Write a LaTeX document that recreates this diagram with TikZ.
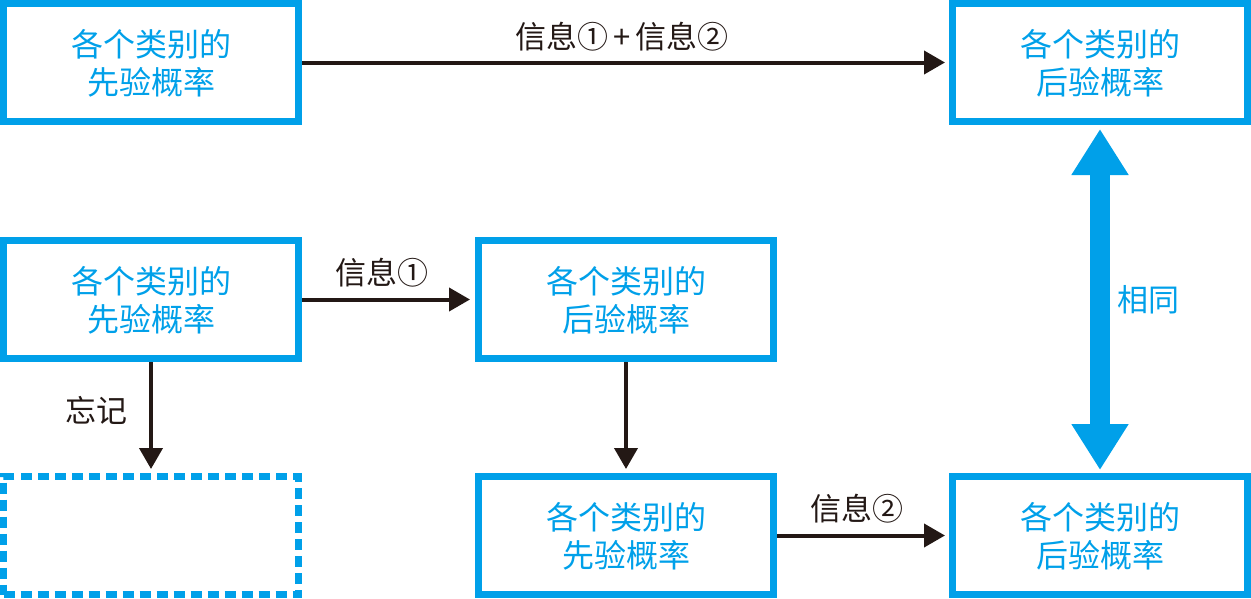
\documentclass[tikz,border=0pt]{standalone}
\usepackage{fontspec}
\setmainfont{Noto Sans CJK SC}
\usetikzlibrary{arrows.meta}
\definecolor{cblue}{HTML}{00A0E9}
\definecolor{cblack}{HTML}{231815}
\newcommand{\twolines}[2]{\raisebox{-11pt}[0pt][0pt]{\begin{tabular}{@{}c@{}}#1\\#2\end{tabular}}}
\tikzset{
  probbox/.style={draw=cblue, line width=7pt, minimum width=295pt, minimum height=118pt,
    inner sep=0pt, text=cblue, align=center, font=\fontsize{32}{35}\selectfont},
  emptybox/.style={draw=cblue, line width=7pt, minimum width=295pt, minimum height=118pt,
    inner sep=0pt, dash pattern=on 11pt off 6pt},
  conn/.style={draw=cblack, line width=4pt, -{Triangle[width=23pt,length=21pt]}},
  lbl/.style={text=cblack, font=\fontsize{31}{35}\selectfont, inner sep=0pt},
  bluelbl/.style={text=cblue, font=\fontsize{31}{35}\selectfont, inner sep=0pt},
}
\begin{document}
\begin{tikzpicture}[x=1pt,y=-1pt]
\useasboundingbox (0,0) rectangle (1251,598);
\node[probbox] (tl) at (151,62.5) {\twolines{各个类别的}{先验概率}};
\node[probbox] (tr) at (1100,62.5) {\twolines{各个类别的}{后验概率}};
\node[probbox] (ml) at (151,299.5) {\twolines{各个类别的}{先验概率}};
\node[probbox] (mc) at (626,299.5) {\twolines{各个类别的}{后验概率}};
\node[emptybox] (bl) at (151,535.5) {};
\node[probbox] (bc) at (626,535.5) {\twolines{各个类别的}{先验概率}};
\node[probbox] (br) at (1100,535.5) {\twolines{各个类别的}{后验概率}};

\draw[conn, shorten >=4pt] (tl.east) -- (tr.west);
\draw[conn, shorten >=5pt] (ml.east) -- (mc.west);
\draw[conn, shorten >=4pt] (mc.south) -- (bc.north);
\draw[conn, shorten >=4pt] (ml.south) -- (bl.north);
\draw[conn, shorten >=4pt] (bc.east) -- (br.west);
\draw[draw=cblue, line width=20pt,
  {Triangle[width=54pt,length=46pt]}-{Triangle[width=54pt,length=46pt]},
  shorten <=4pt, shorten >=3pt] (tr.south) -- (br.north);

\node[lbl] (l12) at (622,37) {信息①\hspace{5pt}+\hspace{5pt}信息②};
\node[lbl] (l1) at (382,273) {信息①};
\node[lbl] (l2) at (857,509) {信息②};
\node[lbl] (lf) at (96,410) {忘记};
\node[bluelbl] (ls) at (1148,300) {相同};
\end{tikzpicture}
\end{document}
